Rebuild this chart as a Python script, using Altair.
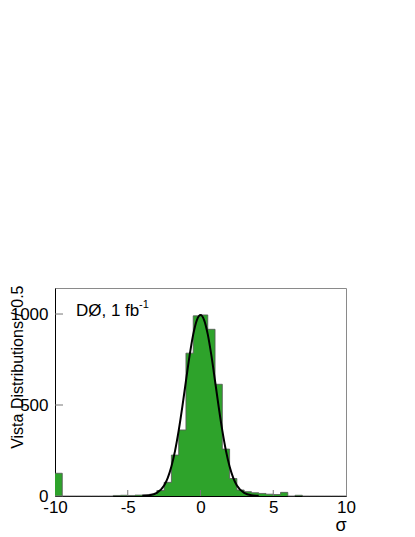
import altair as alt
import pandas as pd

# Histogram: left edges of the 0.5-wide bins and their counts
bin_lefts = [-10, -9.5, -9, -8.5, -8, -7.5, -7, -6.5, -6, -5.5,
             -5, -4.5, -4, -3.5, -3, -2.5, -2, -1.5, -1, -0.5,
             0, 0.5, 1, 1.5, 2, 2.5, 3, 3.5, 4, 4.5,
             5, 5.5, 6, 6.5, 7, 7.5, 8, 8.5, 9, 9.5]
counts = [125, 0, 0, 0, 0, 0, 0, 0, 3, 4,
          3, 5, 6, 10, 30, 75, 225, 363, 785, 990,
          995, 916, 614, 258, 96, 33, 24, 18, 14, 10,
          8, 20, 0, 4, 0, 0, 0, 0, 0, 0]
bin_width = 0.5

# Fitted curve, points
curve_x = [-4, -3.5, -3, -2.5, -2.25, -2, -1.75, -1.5, -1.25, -1, -0.75, -0.5, -0.25,
           0, 0.25, 0.5, 0.75, 1, 1.25, 1.5, 1.75, 2, 2.25, 2.5, 3, 3.5, 4]
curve_y = [1, 4, 17, 58, 100, 162, 248, 359, 490, 632, 771, 888, 967,
           995, 967, 888, 771, 632, 490, 359, 248, 162, 100, 58, 17, 4, 1]

y_ticks = [0, 500, 1000]
x_ticks = [-10, -5, 0, 5, 10]
x_inner_ticks = [-5, 0, 5]

W, H = 291, 208
FONT = "Liberation Sans"

outline = pd.DataFrame({
    "x": bin_lefts + [bin_lefts[-1] + bin_width],
    "n": counts + [counts[-1]],
})
curve = pd.DataFrame({"x": curve_x, "y": curve_y})

xs = alt.Scale(domain=[-10, 10], nice=False, zero=False)
ys = alt.Scale(domain=[0, 1143], nice=False)

fill = alt.Chart(outline).mark_area(
    color="#2ea32b", interpolate="step-after", opacity=1
).encode(
    x=alt.X("x:Q", scale=xs,
            axis=alt.Axis(values=x_ticks, title="σ", tickSize=0, labelPadding=3,
                          labelExpr="datum.value + ''",
                          labelFontSize=17, labelFont=FONT, labelColor="black",
                          domainColor="black", domainWidth=1, grid=False,
                          titleFont=FONT, titleFontSize=18, titleFontWeight="normal",
                          titleAnchor="end", titlePadding=1, labelFlush=False)),
    y=alt.Y("n:Q", scale=ys,
            axis=alt.Axis(values=y_ticks, title="Vista Distributions / 0.5", tickSize=0,
                          labelExpr="datum.value + ''",
                          labelPadding=7, labelFontSize=17, labelFont=FONT,
                          labelColor="black", domainColor="black", domainWidth=1,
                          grid=False, titleFont=FONT, titleFontSize=16,
                          titleFontWeight="normal", titleAnchor="end",
                          titleX=-38, titleY=-3, titleAlign="right",
                          titleBaseline="middle", labelFlush=False)),
    y2=alt.datum(0),
)

edge = alt.Chart(outline).mark_line(
    color="#555555", strokeWidth=0.8, interpolate="step-after"
).encode(
    x=alt.X("x:Q", scale=xs),
    y=alt.Y("n:Q", scale=ys),
)

line = alt.Chart(curve).mark_line(color="black", strokeWidth=2, interpolate="monotone").encode(
    x=alt.X("x:Q", scale=xs),
    y=alt.Y("y:Q", scale=ys),
)

ytick_df = pd.DataFrame({"v": y_ticks})
yticks = alt.Chart(ytick_df).mark_rule(color="#777777", strokeWidth=1).encode(
    y=alt.Y("v:Q", scale=ys),
    x=alt.value(0),
    x2=alt.value(8),
)

xtick_df = pd.DataFrame({"v": x_inner_ticks})
xticks = alt.Chart(xtick_df).mark_rule(color="#777777", strokeWidth=1).encode(
    x=alt.X("v:Q", scale=xs),
    y=alt.value(H),
    y2=alt.value(H - 6),
)

label_df = pd.DataFrame({"t": ["DØ, 1 fb"]})
label = alt.Chart(label_df).mark_text(
    align="left", baseline="alphabetic", fontSize=17, font=FONT, color="black"
).encode(text="t:N", x=alt.value(21), y=alt.value(28))

sup_df = pd.DataFrame({"t": ["-1"]})
sup = alt.Chart(sup_df).mark_text(
    align="left", baseline="alphabetic", fontSize=11, font=FONT, color="black"
).encode(text="t:N", x=alt.value(84), y=alt.value(20))

chart = alt.layer(fill, edge, line, yticks, xticks, label, sup).properties(
    width=W, height=H,
    autosize=alt.AutoSizeParams(type="none"),
    padding={"left": 47, "top": 280, "right": 60, "bottom": 40},
).configure_view(stroke="#8a8a8a", strokeWidth=1)

chart.save("out.html", embed_options={"renderer": "svg", "actions": False})
